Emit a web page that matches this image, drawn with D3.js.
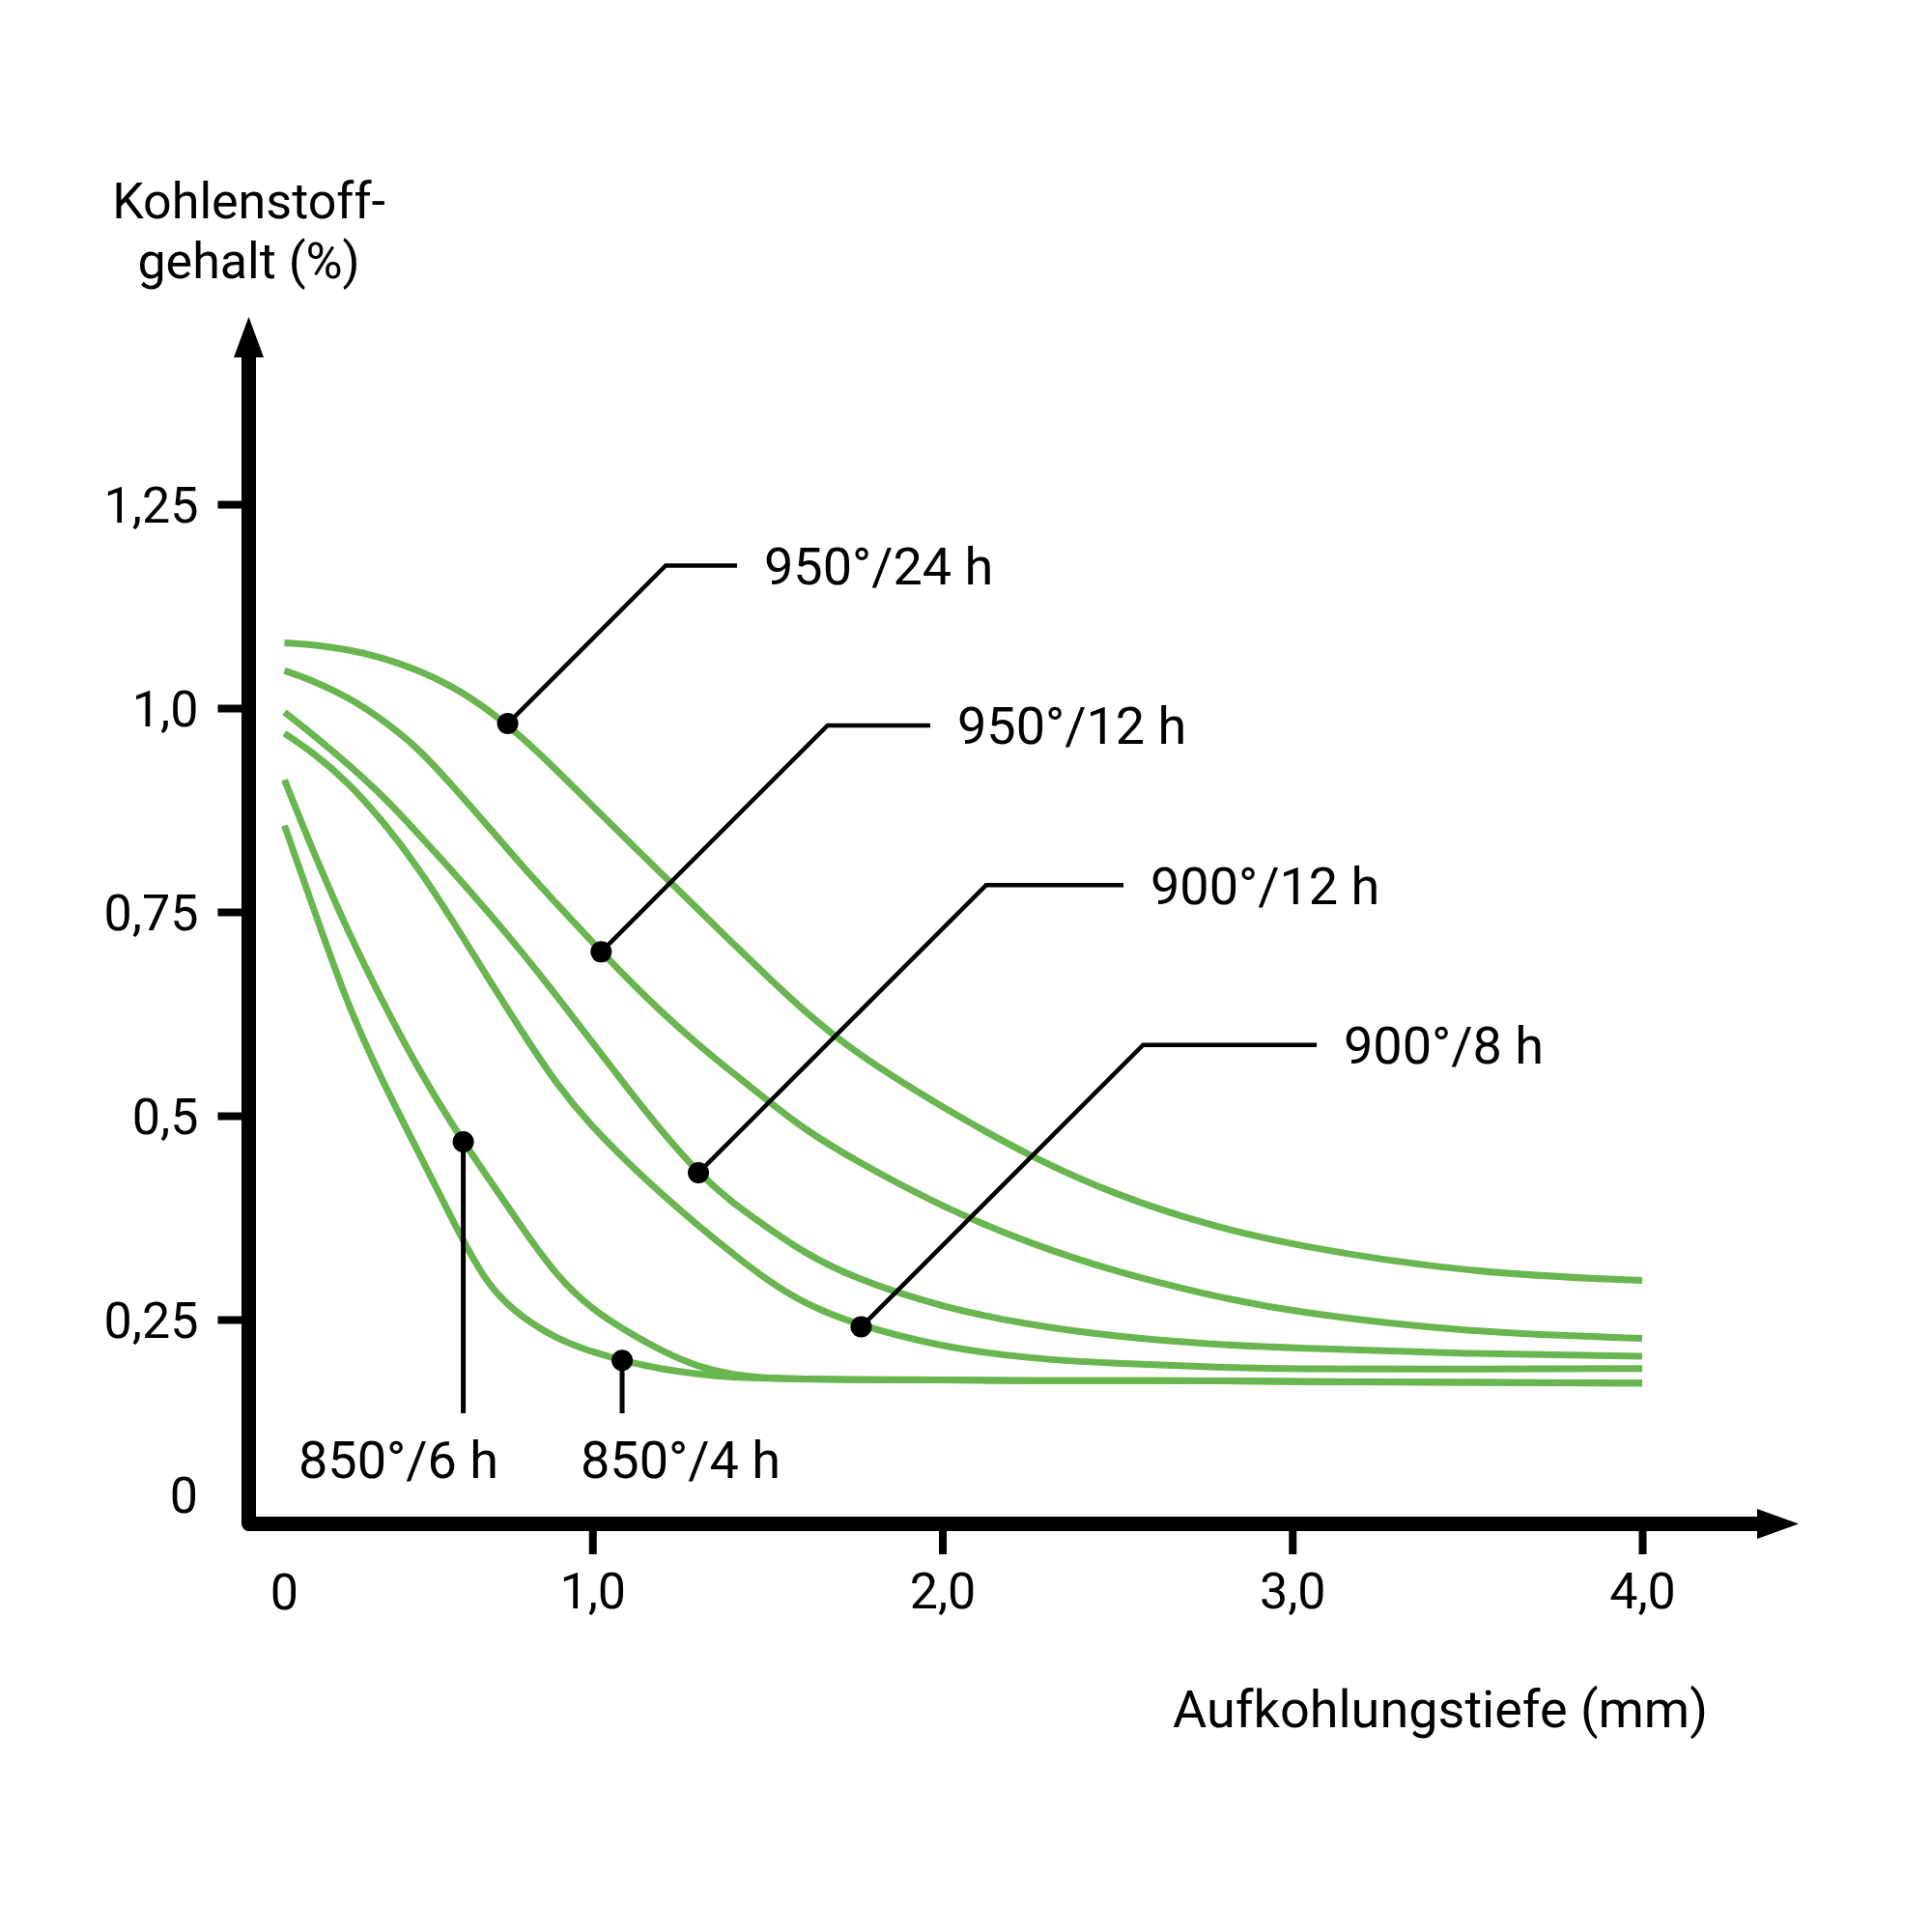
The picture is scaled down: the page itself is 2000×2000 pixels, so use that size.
<!DOCTYPE html>
<html>
<head>
<meta charset="utf-8">
<script src="https://cdn.jsdelivr.net/npm/d3@7"></script>
<style>
  body { margin: 0; background: #fff; }
  svg text { font-family: Roboto, "Noto Sans", sans-serif; fill: #000; }
</style>
</head>
<body>
<svg id="chart" width="2000" height="2000"></svg>
<script>
// depth (mm) grid shared by all curves
const depth = [0.12, 0.2, 0.3, 0.4, 0.5, 0.6, 0.7, 0.8, 0.9, 1.0, 1.1, 1.2, 1.3, 1.4, 1.5, 1.6, 1.75, 2.0, 2.25, 2.5, 2.75, 3.0, 3.5, 4.0];

// carbon content (%) per treatment
const c950_24 = [1.080, 1.078, 1.072, 1.062, 1.047, 1.027, 0.999, 0.964, 0.923, 0.880, 0.838, 0.796, 0.754, 0.712, 0.671, 0.630, 0.577, 0.510, 0.450, 0.402, 0.367, 0.341, 0.307, 0.298];
const c950_12 = [1.046, 1.034, 1.014, 0.986, 0.952, 0.905, 0.856, 0.806, 0.759, 0.713, 0.668, 0.626, 0.588, 0.553, 0.519, 0.485, 0.445, 0.388, 0.343, 0.308, 0.281, 0.259, 0.234, 0.227];
const c900_12 = [0.995, 0.968, 0.932, 0.893, 0.847, 0.800, 0.751, 0.700, 0.646, 0.590, 0.534, 0.480, 0.431, 0.393, 0.363, 0.333, 0.300, 0.265, 0.243, 0.229, 0.220, 0.215, 0.208, 0.205];
const c900_8  = [0.969, 0.946, 0.910, 0.862, 0.806, 0.740, 0.670, 0.602, 0.537, 0.486, 0.443, 0.403, 0.366, 0.331, 0.298, 0.271, 0.244, 0.216, 0.202, 0.196, 0.192, 0.189, 0.189, 0.190];
const c850_6  = [0.912, 0.826, 0.727, 0.640, 0.559, 0.488, 0.425, 0.362, 0.302, 0.262, 0.235, 0.211, 0.192, 0.182, 0.178, 0.177, 0.176, 0.176, 0.175, 0.175, 0.175, 0.174, 0.173, 0.172];
const c850_4  = [0.856, 0.758, 0.636, 0.542, 0.458, 0.372, 0.290, 0.252, 0.226, 0.210, 0.198, 0.189, 0.183, 0.179, 0.178, 0.177, 0.176, 0.176, 0.175, 0.175, 0.175, 0.174, 0.173, 0.172];

const seriesLabels = ["950°/24 h", "950°/12 h", "900°/12 h", "900°/8 h", "850°/6 h", "850°/4 h"];
const seriesValues = [c950_24, c950_12, c900_12, c900_8, c850_6, c850_4];

// where each label points on its curve
const markDepth  = [0.758, 1.025, 1.303, 1.768, 0.631, 1.085];
const markCarbon = [0.981, 0.701, 0.430, 0.241, 0.468, 0.200];

const xTickValues = [1, 2, 3, 4];
const xTickLabels = ["1,0", "2,0", "3,0", "4,0"];
const yTickValues = [0.25, 0.5, 0.75, 1.0, 1.25];
const yTickLabels = ["0,25", "0,5", "0,75", "1,0", "1,25"];

const svg = d3.select("#chart"),
  green = "#69b650",
  axisX = 257.5,
  axisY = 1577.5;

svg.append("rect").attr("width", 2000).attr("height", 2000).attr("fill", "#fff");

const x = d3.scaleLinear().domain([0, 4]).range([251, 1700]);
const y = d3.scaleLinear().domain([0, 1.25]).range([1577, 522]);

// ticks + tick labels
const gy = svg.append("g")
  .attr("transform", `translate(${axisX},0)`)
  .call(d3.axisLeft(y)
    .tickValues(yTickValues)
    .tickFormat((d, i) => yTickLabels[i])
    .tickSize(32)
    .tickPadding(20));

const gx = svg.append("g")
  .attr("transform", `translate(0,${axisY})`)
  .call(d3.axisBottom(x)
    .tickValues(xTickValues)
    .tickFormat((d, i) => xTickLabels[i])
    .tickSize(31.5)
    .tickPadding(19));

[gx, gy].forEach(g => {
  g.select(".domain").remove();
  g.selectAll(".tick line").attr("stroke", "#000").attr("stroke-width", 8);
  g.selectAll(".tick text")
    .attr("font-family", "Roboto, sans-serif")
    .attr("font-size", 52)
    .attr("fill", "#000");
});
gy.selectAll(".tick text").attr("dy", "0.36em");

// the two "0" labels sit off the tick grid
svg.append("text")
  .attr("x", 205).attr("y", y(0) - 11)
  .attr("text-anchor", "end")
  .attr("font-size", 52)
  .text("0");
svg.append("text")
  .attr("x", x(depth[0])).attr("y", 1666)
  .attr("text-anchor", "middle")
  .attr("font-size", 52)
  .text("0");

// curves
const line = d3.line()
  .x((d, i) => x(depth[i]))
  .y(d => y(d))
  .curve(d3.curveBasis);

svg.append("g")
  .selectAll("path")
  .data(seriesValues)
  .join("path")
  .attr("d", line)
  .attr("fill", "none")
  .attr("stroke", green)
  .attr("stroke-width", 7);

// axes with arrow heads
svg.append("path")
  .attr("d", `M${axisX},368 V${axisY} H1821`)
  .attr("fill", "none")
  .attr("stroke", "#000")
  .attr("stroke-width", 15)
  .attr("stroke-linejoin", "round");
svg.append("path")
  .attr("d", `M${axisX},328 L${axisX - 15.5},370 L${axisX + 15.5},370 Z`)
  .attr("fill", "#000");
svg.append("path")
  .attr("d", `M1862,${axisY} L1819,${axisY - 15.5} L1819,${axisY + 15.5} Z`)
  .attr("fill", "#000");

// axis titles
const yTitle = svg.append("text")
  .attr("text-anchor", "middle")
  .attr("font-size", 52);
yTitle.append("tspan").attr("x", axisX).attr("y", 226).text("Kohlenstoff-");
yTitle.append("tspan").attr("x", axisX).attr("y", 288).text("gehalt (%)");

svg.append("text")
  .attr("x", 1768).attr("y", 1788)
  .attr("text-anchor", "end")
  .attr("font-size", 54)
  .text("Aufkohlungstiefe (mm)");

// callouts: first four go up-right at 45 degrees, then flat to the label
const callout = svg.append("g");
for (let i = 0; i < 4; i++) {
  const px = x(markDepth[i]), py = y(markCarbon[i]);
  const ly = 585.5 + i * 165.4,
    lx = 791 + i * 200;
  const cx = px + (py - ly);
  callout.append("path")
    .attr("d", `M${px},${py} L${cx},${ly} H${lx - 28}`)
    .attr("fill", "none")
    .attr("stroke", "#000")
    .attr("stroke-width", 4.5);
  callout.append("circle")
    .attr("cx", px).attr("cy", py).attr("r", 11)
    .attr("fill", "#000");
  callout.append("text")
    .attr("x", lx).attr("y", ly)
    .attr("dy", "0.36em")
    .attr("font-size", 54)
    .text(seriesLabels[i]);
}

// the 850 curves get straight drops to labels below
const dropLabelX = [309, 601];
for (let i = 4; i < 6; i++) {
  const px = x(markDepth[i]), py = y(markCarbon[i]);
  callout.append("line")
    .attr("x1", px).attr("y1", py)
    .attr("x2", px).attr("y2", 1463)
    .attr("stroke", "#000")
    .attr("stroke-width", 5);
  callout.append("circle")
    .attr("cx", px).attr("cy", py).attr("r", 11)
    .attr("fill", "#000");
  callout.append("text")
    .attr("x", dropLabelX[i - 4]).attr("y", 1530)
    .attr("font-size", 54)
    .text(seriesLabels[i]);
}
</script>
</body>
</html>
